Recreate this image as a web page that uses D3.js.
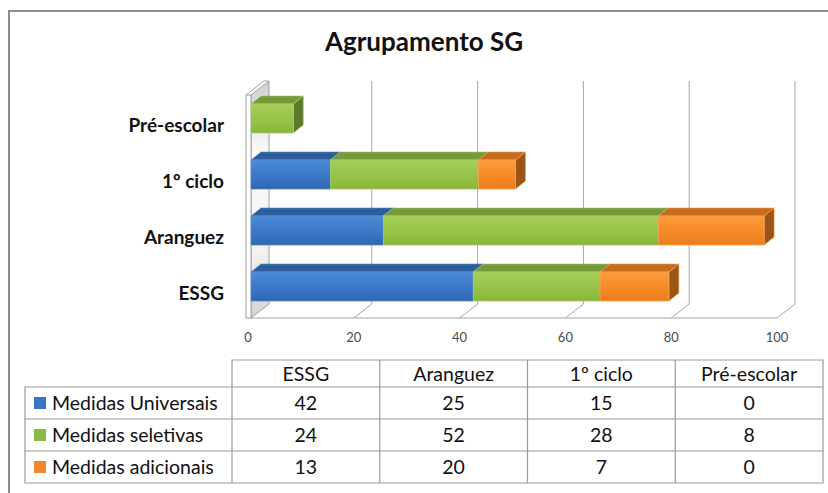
<!DOCTYPE html>
<html>
<head>
<meta charset="utf-8">
<script src="https://cdn.jsdelivr.net/npm/d3@7"></script>
<style>
  html, body { margin: 0; padding: 0; background: #fff; }
  svg { display: block; font-family: Lato, "Open Sans", sans-serif; }
</style>
</head>
<body>
<script>
const categories = ["ESSG", "Aranguez", "1º ciclo", "Pré-escolar"]
const series = ["Medidas Universais", "Medidas seletivas", "Medidas adicionais"]
const universais = [42, 25, 15, 0]
const seletivas = [24, 52, 28, 8]
const adicionais = [13, 20, 7, 0]
const ticks = [0, 20, 40, 60, 80, 100]

const width = 828, height = 493
const depth = {dx: 18, dy: -14}   // floor / wall depth
const bar = {dx: 10, dy: -8, off: 3}  // bar depth, bar offset from front

const rows = categories.map((c, i) => ({
  cat: c,
  "Medidas Universais": universais[i],
  "Medidas seletivas": seletivas[i],
  "Medidas adicionais": adicionais[i]
}))

const palette = {
  "Medidas Universais": {top: "#4d8ad6", mid: "#3b78c6", bot: "#2f66b0", lid: "#2c5e9c", side: "#214a80", edge: "#5b95dc", key: "#3a74c4"},
  "Medidas seletivas": {top: "#a6cd58", mid: "#97c348", bot: "#88b53c", lid: "#76993a", side: "#5d7a2c", edge: "#b2d46c", key: "#8cba44"},
  "Medidas adicionais": {top: "#fb9c3e", mid: "#f68a26", bot: "#ea7d1c", lid: "#c66a1c", side: "#9b5516", edge: "#fba458", key: "#f28a2c"}
}

const svg = d3.select("body").append("svg")
  .attr("width", width)
  .attr("height", height)

const defs = svg.append("defs")
series.forEach((s, i) => {
  const g = defs.append("linearGradient")
    .attr("id", "grad" + i)
    .attr("x1", 0).attr("y1", 0).attr("x2", 0).attr("y2", 1)
  g.append("stop").attr("offset", "0%").attr("stop-color", palette[s].top)
  g.append("stop").attr("offset", "55%").attr("stop-color", palette[s].mid)
  g.append("stop").attr("offset", "100%").attr("stop-color", palette[s].bot)
})
const wallGrad = defs.append("linearGradient")
  .attr("id", "wall").attr("x1", 0).attr("y1", 0).attr("x2", 0).attr("y2", 1)
wallGrad.append("stop").attr("offset", "0%").attr("stop-color", "#cfcfcf")
wallGrad.append("stop").attr("offset", "30%").attr("stop-color", "#fafafa")
wallGrad.append("stop").attr("offset", "70%").attr("stop-color", "#f4f4f4")
wallGrad.append("stop").attr("offset", "100%").attr("stop-color", "#d4d4d4")

// outer frame
svg.append("path")
  .attr("d", `M9,${height} V11 H${width}`)
  .attr("fill", "none")
  .attr("stroke", "#8c8c8c")
  .attr("stroke-width", 2)

svg.append("text")
  .attr("x", 424)
  .attr("y", 51)
  .attr("text-anchor", "middle")
  .attr("font-size", 26)
  .attr("font-weight", "bold")
  .attr("fill", "#111")
  .text("Agrupamento SG")

const x = d3.scaleLinear().domain([0, 100]).range([248, 777])
const y = d3.scaleBand()
  .domain(categories.slice().reverse())
  .range([90.5, 314.5])
  .paddingInner(0.48)
  .paddingOuter(0.24)

const floorY = 318, wallTop = 95

// back wall gridlines and floor diagonals
const grid = svg.append("g")
  .attr("stroke", "#a6a6a6")
  .attr("stroke-width", 1)
  .attr("fill", "none")
grid.selectAll("path.g")
  .data(ticks.slice(1))
  .join("path")
  .attr("d", d => `M${x(d)},${floorY} L${x(d) + depth.dx},${floorY + depth.dy} V${wallTop + depth.dy}`)
grid.append("path")
  .attr("d", `M${x(0)},${floorY} H${x(100)}`)

// left side wall
svg.append("path")
  .attr("d", `M${x(0) + 3},${floorY} V${wallTop} L${x(0) + 3 + depth.dx},${wallTop + depth.dy} V${floorY + depth.dy} Z`)
  .attr("fill", "url(#wall)")
  .attr("stroke", "#a0a0a0")
svg.append("rect")
  .attr("x", x(0) - 2).attr("y", wallTop)
  .attr("width", 5).attr("height", floorY - wallTop)
  .attr("fill", "#fff")
  .attr("stroke", "#a0a0a0")
svg.append("path")
  .attr("d", `M${x(0) - 2},${wallTop} L${x(0) - 2 + depth.dx},${wallTop + depth.dy} H${x(0) + 3 + depth.dx}`)
  .attr("fill", "none")
  .attr("stroke", "#a0a0a0")

// tick labels
svg.append("g")
  .selectAll("text")
  .data(ticks)
  .join("text")
  .attr("x", d => x(d))
  .attr("y", 342)
  .attr("text-anchor", "middle")
  .attr("font-size", 13)
  .attr("fill", "#4a4a4a")
  .text(d => d)

// stacked 3D bars
const stack = d3.stack().keys(series)(rows)
const bw = y.bandwidth()
const gBars = svg.append("g")
stack.forEach((layer, si) => {
  const c = palette[series[si]]
  layer.forEach(d => {
    if (d[1] - d[0] <= 0) return
    const x0 = x(d[0]) + bar.off, x1 = x(d[1]) + bar.off
    const y0 = y(d.data.cat), y1 = y0 + bw
    const g = gBars.append("g").attr("class", "seg").datum({x0, x1, y0, y1, si})
    g.append("path")
      .attr("d", `M${x1},${y0} L${x1 + bar.dx},${y0 + bar.dy} V${y1 + bar.dy} L${x1},${y1} Z`)
      .attr("fill", c.side)
      .attr("stroke", c.edge).attr("stroke-width", 0.6)
    g.append("path")
      .attr("d", `M${x0},${y0} L${x0 + bar.dx},${y0 + bar.dy} H${x1 + bar.dx} L${x1},${y0} Z`)
      .attr("fill", c.lid)
      .attr("stroke", c.edge).attr("stroke-width", 0.6)
    g.append("rect")
      .attr("x", x0).attr("y", y0)
      .attr("width", x1 - x0).attr("height", bw)
      .attr("fill", `url(#grad${si})`)
      .attr("stroke", c.edge).attr("stroke-width", 0.6)
  })
})
// order segments left to right within each bar so sides get covered
gBars.selectAll("g.seg").sort((a, b) => a.y0 - b.y0 || a.x0 - b.x0)

// category labels
svg.append("g")
  .selectAll("text")
  .data(categories)
  .join("text")
  .attr("x", 224)
  .attr("y", d => y(d) + bw / 2 + 7)
  .attr("dy", "0.35em")
  .attr("text-anchor", "end")
  .attr("font-size", 19)
  .attr("font-weight", "bold")
  .attr("fill", "#111")
  .text(d => d)

// data table
const col = d3.scaleBand().domain(categories).range([232, 823])
const row = d3.scaleBand().domain(series).range([387, 483])
const headTop = 360, legendLeft = 25
const values = {"Medidas Universais": universais, "Medidas seletivas": seletivas, "Medidas adicionais": adicionais}

const table = svg.append("g")
const lines = table.append("g")
  .attr("stroke", "#9a9a9a")
  .attr("stroke-width", 1.2)
  .attr("fill", "none")
lines.append("path")
  .attr("d", `M${col.range()[0]},${row.range()[1]} V${headTop} H${col.range()[1]} V${row.range()[1]} H${legendLeft} V${row.range()[0]} H${col.range()[1]}`)
categories.slice(1).forEach(c => {
  lines.append("path").attr("d", `M${col(c)},${headTop} V${row.range()[1]}`)
})
series.slice(1).forEach(s => {
  lines.append("path").attr("d", `M${legendLeft},${row(s)} H${col.range()[1]}`)
})

table.append("g")
  .selectAll("text")
  .data(categories)
  .join("text")
  .attr("x", d => col(d) + col.bandwidth() / 2)
  .attr("y", headTop + 14)
  .attr("dy", "0.35em")
  .attr("text-anchor", "middle")
  .attr("font-size", 19.5)
  .attr("fill", "#111")
  .text(d => d)

series.forEach(s => {
  const cy = row(s) + row.bandwidth() / 2
  table.append("rect")
    .attr("x", 34).attr("y", cy - 6)
    .attr("width", 12).attr("height", 12)
    .attr("fill", palette[s].key)
  table.append("text")
    .attr("x", 52).attr("y", cy)
    .attr("dy", "0.35em")
    .attr("font-size", 19.5)
    .attr("fill", "#111")
    .text(s)
  table.append("g")
    .selectAll("text")
    .data(values[s])
    .join("text")
    .attr("x", (d, i) => col(categories[i]) + col.bandwidth() / 2)
    .attr("y", cy)
    .attr("dy", "0.35em")
    .attr("text-anchor", "middle")
    .attr("font-size", 19.5)
    .attr("fill", "#111")
    .text(d => d)
})
</script>
</body>
</html>
